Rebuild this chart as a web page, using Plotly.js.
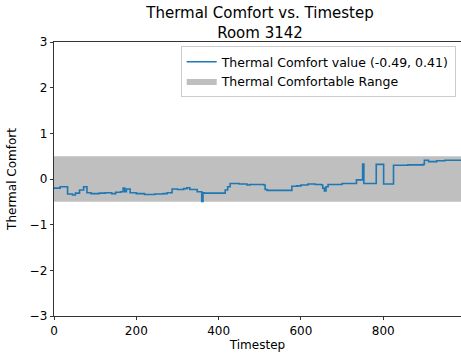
<!DOCTYPE html>
<html>
<head>
<meta charset="utf-8">
<script src="https://cdn.plot.ly/plotly-3.0.1.min.js"></script>
<style>html,body{margin:0;padding:0;background:#fff;}#chart{width:461px;height:353px;}</style>
</head>
<body>
<div id="chart"></div>
<script>
// Step breakpoints of the thermal comfort series (timestep, value)
const timesteps = [0, 15, 33, 45, 52, 62, 72, 80, 90, 110, 125, 140, 150, 162, 168, 172, 176, 185, 200, 220, 245, 265, 275, 287, 300, 315, 323, 330, 348, 359, 362, 365, 416, 422, 428, 450, 469, 476, 510, 513, 518, 578, 590, 600, 617, 635, 650, 653, 657, 661, 666, 700, 735, 750, 753, 780, 783, 801, 825, 860, 897, 900, 910, 930, 950, 989];
const comfort = [-0.20, -0.17, -0.33, -0.35, -0.31, -0.24, -0.17, -0.30, -0.32, -0.31, -0.30, -0.32, -0.29, -0.28, -0.20, -0.28, -0.22, -0.30, -0.32, -0.34, -0.33, -0.32, -0.30, -0.22, -0.23, -0.21, -0.19, -0.23, -0.28, -0.49, -0.30, -0.31, -0.24, -0.17, -0.10, -0.11, -0.13, -0.12, -0.13, -0.23, -0.25, -0.16, -0.15, -0.13, -0.11, -0.12, -0.13, -0.20, -0.26, -0.17, -0.12, -0.10, -0.02, 0.33, -0.10, -0.10, 0.32, -0.11, 0.30, 0.31, 0.32, 0.41, 0.38, 0.40, 0.41, 0.41];
const rangeLow = -0.5;
const rangeHigh = 0.5;
const xTicks = [0, 200, 400, 600, 800];
const yTicks = [-3, -2, -1, 0, 1, 2, 3];
const titleText = "Thermal Comfort vs. Timestep<br>Room 3142";
const lineName = "Thermal Comfort value (-0.49, 0.41)";
const bandName = "Thermal Comfortable Range";

const xFirst = timesteps[0], xLast = timesteps[timesteps.length - 1];

const traces = [
  {x: [xFirst, xLast], y: [rangeLow, rangeLow], mode: 'lines', line: {width: 0, color: 'rgba(0,0,0,0)'}, showlegend: false, hoverinfo: 'skip'},
  {x: [xFirst, xLast], y: [rangeHigh, rangeHigh], mode: 'lines', fill: 'tonexty', fillcolor: '#bfbfbf', line: {width: 0, color: '#bfbfbf'}, name: bandName, legendrank: 2},
  {x: timesteps, y: comfort, mode: 'lines', line: {color: '#1f77b4', width: 1.6, shape: 'hv'}, name: lineName, legendrank: 1}
];

const font = {family: 'DejaVu Sans', size: 12, color: '#000'};
const layout = {
  width: 461, height: 353,
  margin: {l: 54, r: 0, t: 42, b: 37},
  paper_bgcolor: '#fff', plot_bgcolor: '#fff',
  font: font,
  showlegend: true,
  title: {text: titleText, font: {family: 'DejaVu Sans', size: 15, color: '#000'}, x: 0.564, xanchor: 'center', y: 0.948, yanchor: 'middle'},
  xaxis: {
    range: [0, xLast], tickvals: xTicks, ticks: 'outside', ticklen: 3.5, tickwidth: 0.8, tickcolor: '#000',
    showline: true, linecolor: '#000', linewidth: 0.8, mirror: true, showgrid: false, zeroline: false,
    tickfont: font,
    title: {text: 'Timestep', font: font, standoff: 3}
  },
  yaxis: {
    range: [-3, 3], tickvals: yTicks, ticks: 'outside', ticklen: 3.5, tickwidth: 0.8, tickcolor: '#000',
    showline: true, linecolor: '#000', linewidth: 0.8, showgrid: false, zeroline: false,
    tickfont: font,
    title: {text: 'Thermal Comfort', font: font, standoff: 10}
  },
  legend: {
    x: 0.987, xanchor: 'right', y: 0.985, yanchor: 'top',
    bgcolor: 'rgba(255,255,255,0.8)', bordercolor: '#cccccc', borderwidth: 1,
    font: {family: 'DejaVu Sans', size: 12.5, color: '#000'},
    traceorder: 'normal', tracegroupgap: 0, itemwidth: 30
  }
};

Plotly.newPlot('chart', traces, layout, {staticPlot: true, displayModeBar: false});
</script>
</body>
</html>
